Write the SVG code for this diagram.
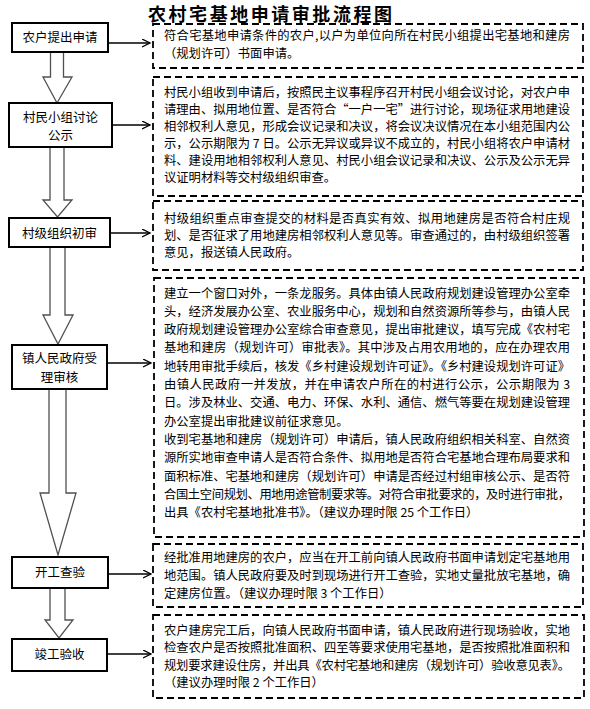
<svg xmlns="http://www.w3.org/2000/svg" width="590" height="709" viewBox="0 0 590 709">
<style>
.node rect{fill:#fff;stroke:#000;stroke-width:2}
.ntxt{font-family:"Noto Sans CJK SC","Liberation Sans",sans-serif;font-size:12.5px;fill:#000;text-anchor:middle}
.box{fill:none;stroke:#000;stroke-width:1.8;stroke-dasharray:7 4}
.btxt{font-family:"Noto Sans CJK SC","Liberation Sans",sans-serif;font-size:12.3px;fill:#000}
.blk{fill:#fff;stroke:#505050;stroke-width:1.3}
.hc{stroke:#000;stroke-width:1.3;fill:none;marker-end:url(#oa)}
.title{font-family:"Noto Sans CJK SC","Liberation Serif",serif;font-size:18px;font-weight:bold;fill:#000;text-anchor:middle}
</style>
<defs>
<marker id="oa" markerUnits="userSpaceOnUse" markerWidth="10" markerHeight="10" refX="8" refY="4" orient="auto">
<path d="M0,0 L8,4 L0,8" fill="none" stroke="#000" stroke-width="1.3"/>
</marker>
</defs>
<rect width="590" height="709" fill="#fff"/>
<text class="title" x="270" y="21" textLength="244" lengthAdjust="spacing">农村宅基地申请审批流程图</text>

<g id="connectors">
<polygon class="blk" points="50.5,52 63.5,52 63.5,77 72,77 57,103 43,77 50.5,77"/>
<polygon class="blk" points="50,147 64,147 64,200 72,200 57.5,217 43,200 50,200"/>
<polygon class="blk" points="50,247 65,247 65,315 73,315 58,344 43,315 50,315"/>
<polygon class="blk" points="49,389 66,389 66,493 76,493 58,555 40,493 49,493"/>
<polygon class="blk" points="50,588 65,588 65,620 73,620 59,638 45,620 50,620"/>
<line class="hc" x1="108" y1="43" x2="150" y2="43"/>
<line class="hc" x1="112" y1="125" x2="150" y2="125"/>
<line class="hc" x1="110" y1="233" x2="150" y2="233"/>
<line class="hc" x1="107" y1="363" x2="151" y2="363"/>
<line class="hc" x1="108" y1="574" x2="151" y2="574"/>
<line class="hc" x1="107" y1="654" x2="151" y2="654"/>
</g>

<g id="n1" class="node"><rect x="12" y="23" width="96" height="29"/><text class="ntxt" x="60" y="42">农户提出申请</text></g>
<g id="n2" class="node"><rect x="9" y="103" width="103" height="44"/><text class="ntxt" x="60.5" y="121.5">村民小组讨论</text><text class="ntxt" x="60.5" y="139.5">公示</text></g>
<g id="n3" class="node"><rect x="9" y="218" width="101" height="29"/><text class="ntxt" x="59.5" y="237.5">村级组织初审</text></g>
<g id="n4" class="node"><rect x="12" y="345" width="95" height="44"/><text class="ntxt" x="59.5" y="362.5">镇人民政府受</text><text class="ntxt" x="59.5" y="381.5">理审核</text></g>
<g id="n5" class="node"><rect x="12" y="557" width="96" height="31"/><text class="ntxt" x="60" y="576.5">开工查验</text></g>
<g id="n6" class="node"><rect x="12" y="639" width="95" height="32"/><text class="ntxt" x="59.5" y="659">竣工验收</text></g>

<g id="d1">
<rect class="box" x="153" y="24" width="430" height="44"/>
<text class="btxt" x="164" y="39.5" textLength="406" lengthAdjust="spacing">符合宅基地申请条件的农户,以户为单位向所在村民小组提出宅基地和建房</text>
<text class="btxt" x="164" y="57.5">（规划许可）书面申请。</text>
</g>
<g id="d2">
<rect class="box" x="153" y="77" width="430" height="119"/>
<text class="btxt" x="164" y="96.5" textLength="406" lengthAdjust="spacing">村民小组收到申请后，按照民主议事程序召开村民小组会议讨论，对农户申</text>
<text class="btxt" x="164" y="113.5" textLength="406" lengthAdjust="spacing">请理由、拟用地位置、是否符合“一户一宅”进行讨论，现场征求用地建设</text>
<text class="btxt" x="164" y="130.5" textLength="406" lengthAdjust="spacing">相邻权利人意见，形成会议记录和决议，将会议决议情况在本小组范围内公</text>
<text class="btxt" x="164" y="147.5" textLength="406" lengthAdjust="spacing">示，公示期限为 7 日。公示无异议或异议不成立的，村民小组将农户申请材</text>
<text class="btxt" x="164" y="164.5" textLength="406" lengthAdjust="spacing">料、建设用地相邻权利人意见、村民小组会议记录和决议、公示及公示无异</text>
<text class="btxt" x="164" y="181.5">议证明材料等交村级组织审查。</text>
</g>
<g id="d3">
<rect class="box" x="153" y="201" width="430" height="69"/>
<text class="btxt" x="164" y="223" textLength="406" lengthAdjust="spacing">村级组织重点审查提交的材料是否真实有效、拟用地建房是否符合村庄规</text>
<text class="btxt" x="164" y="240" textLength="406" lengthAdjust="spacing">划、是否征求了用地建房相邻权利人意见等。审查通过的，由村级组织签署</text>
<text class="btxt" x="164" y="257">意见，报送镇人民政府。</text>
</g>
<g id="d4">
<rect class="box" x="154" y="278" width="430" height="259"/>
<text class="btxt" x="164" y="297.5" textLength="406" lengthAdjust="spacing">建立一个窗口对外，一条龙服务。具体由镇人民政府规划建设管理办公室牵</text>
<text class="btxt" x="164" y="315.8" textLength="406" lengthAdjust="spacing">头，经济发展办公室、农业服务中心，规划和自然资源所等参与，由镇人民</text>
<text class="btxt" x="164" y="334.1" textLength="406" lengthAdjust="spacing">政府规划建设管理办公室综合审查意见，提出审批建议，填写完成《农村宅</text>
<text class="btxt" x="164" y="352.4" textLength="406" lengthAdjust="spacing">基地和建房（规划许可）审批表》。其中涉及占用农用地的，应在办理农用</text>
<text class="btxt" x="164" y="370.7" textLength="406" lengthAdjust="spacing">地转用审批手续后，核发《乡村建设规划许可证》。《乡村建设规划许可证》</text>
<text class="btxt" x="164" y="389" textLength="406" lengthAdjust="spacing">由镇人民政府一并发放，并在申请农户所在的村进行公示，公示期限为 3</text>
<text class="btxt" x="164" y="407.3" textLength="406" lengthAdjust="spacing">日。涉及林业、交通、电力、环保、水利、通信、燃气等要在规划建设管理</text>
<text class="btxt" x="164" y="425.6">办公室提出审批建议前征求意见。</text>
<text class="btxt" x="164" y="443.9" textLength="406" lengthAdjust="spacing">收到宅基地和建房（规划许可）申请后，镇人民政府组织相关科室、自然资</text>
<text class="btxt" x="164" y="462.2" textLength="406" lengthAdjust="spacing">源所实地审查申请人是否符合条件、拟用地是否符合宅基地合理布局要求和</text>
<text class="btxt" x="164" y="480.5" textLength="406" lengthAdjust="spacing">面积标准、宅基地和建房（规划许可）申请是否经过村组审核公示、是否符</text>
<text class="btxt" x="164" y="498.8" textLength="406" lengthAdjust="spacing">合国土空间规划、用地用途管制要求等。对符合审批要求的，及时进行审批，</text>
<text class="btxt" x="164" y="517.1">出具《农村宅基地批准书》。（建议办理时限 25 个工作日）</text>
</g>
<g id="d5">
<rect class="box" x="153" y="544" width="430" height="63"/>
<text class="btxt" x="164" y="562" textLength="406" lengthAdjust="spacing">经批准用地建房的农户，应当在开工前向镇人民政府书面申请划定宅基地用</text>
<text class="btxt" x="164" y="580" textLength="406" lengthAdjust="spacing">地范围。镇人民政府要及时到现场进行开工查验，实地丈量批放宅基地，确</text>
<text class="btxt" x="164" y="598">定建房位置。（建议办理时限 3 个工作日）</text>
</g>
<g id="d6">
<rect class="box" x="153" y="615" width="431" height="83"/>
<text class="btxt" x="164" y="634.5" textLength="406" lengthAdjust="spacing">农户建房完工后，向镇人民政府书面申请，镇人民政府进行现场验收，实地</text>
<text class="btxt" x="164" y="652" textLength="406" lengthAdjust="spacing">检查农户是否按照批准面积、四至等要求使用宅基地，是否按照批准面积和</text>
<text class="btxt" x="164" y="669.5" textLength="406" lengthAdjust="spacing">规划要求建设住房，并出具《农村宅基地和建房（规划许可）验收意见表》。</text>
<text class="btxt" x="164" y="687">（建议办理时限 2 个工作日）</text>
</g>
</svg>
